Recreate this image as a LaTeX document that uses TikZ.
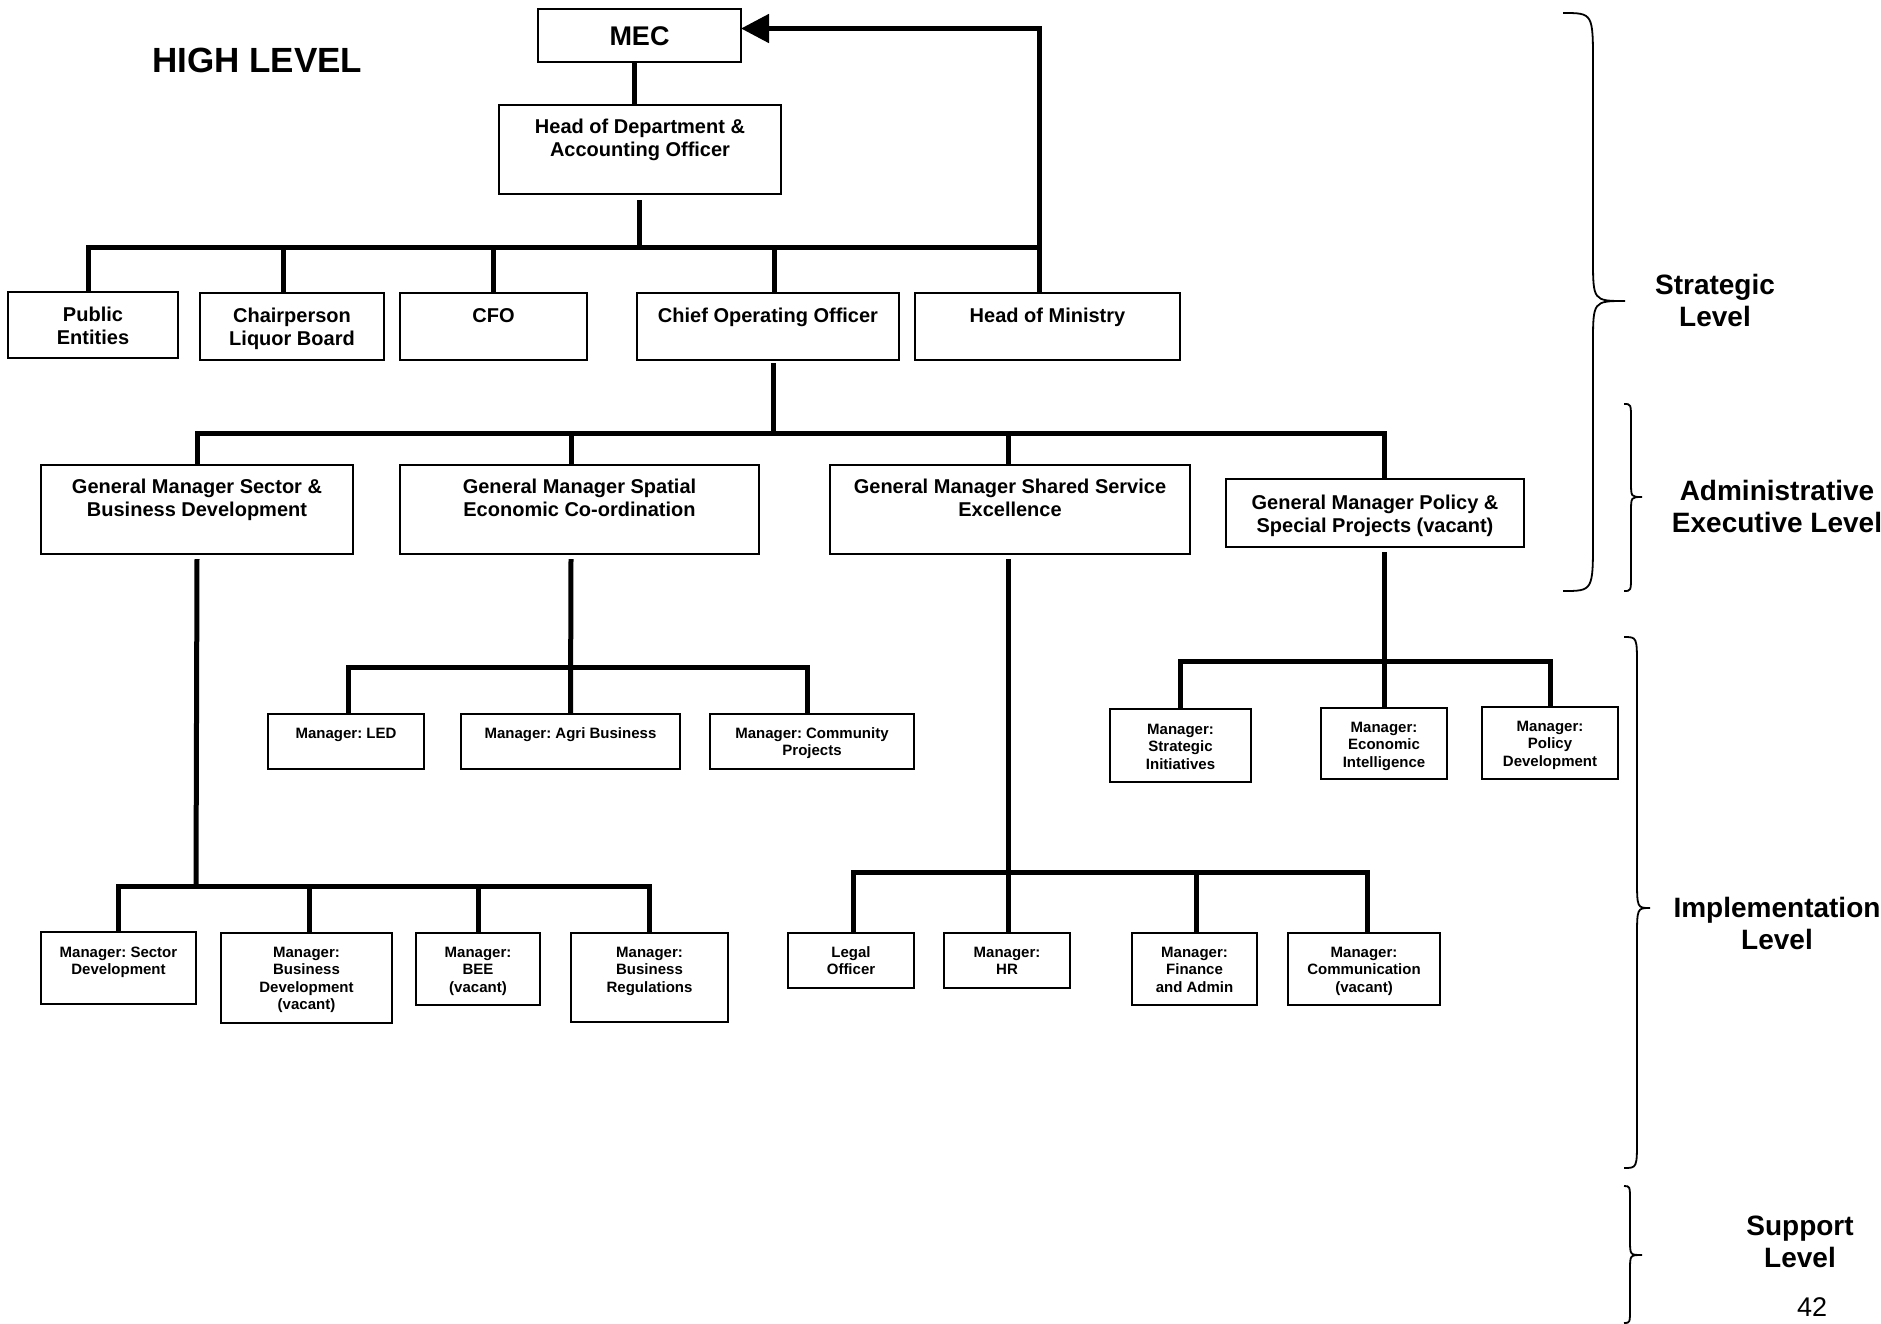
\documentclass[tikz,border=0pt]{standalone}
\usepackage{fontspec}
\setmainfont{Liberation Sans}
\usetikzlibrary{arrows.meta}
% top-aligned box content: width, height, first baseline offset, text
\newcommand\inbox[4]{\parbox[t][#2pt][t]{#1pt}{\centering\rule{0pt}{#3pt}#4}}
\begin{document}
\frenchspacing
\begin{tikzpicture}[x=1pt,y=-1pt,
  box/.style={draw, line width=2pt, inner sep=0pt, outer sep=0pt, anchor=north west,
    font=\bfseries\fontsize{20}{23}\selectfont},
  sbox/.style={box, font=\bfseries\fontsize{15}{17.5}\selectfont},
  conn/.style={line width=5pt, line join=miter},
  brc/.style={line width=1.8pt},
  lvl/.style={anchor=base, inner sep=0pt, font=\bfseries\fontsize{28}{32}\selectfont}]
\useasboundingbox (0,0) rectangle (1881,1323);

% ---------- title ----------
\node[anchor=base west, inner sep=0pt, font=\bfseries\fontsize{35}{40}\selectfont] (title) at (152,72) {HIGH LEVEL};

% ---------- boxes ----------
\node[box] (mec) at (538,9) {\inbox{203}{53}{36}{\fontsize{27}{30}\selectfont MEC}};
\node[box] (hod) at (499,105) {\inbox{282}{89}{28}{Head of Department \&\\Accounting Officer}};

\node[box] (pe)    at (8,292)   {\inbox{170}{66}{29}{Public\\Entities}};
\node[box] (chair) at (200,293) {\inbox{184}{67}{29}{Chairperson\\Liquor Board}};
\node[box] (cfo)   at (400,293) {\inbox{187}{67}{29}{CFO}};
\node[box] (coo)   at (637,293) {\inbox{262}{67}{29}{Chief Operating Officer}};
\node[box] (hom)   at (915,293) {\inbox{265}{67}{29}{Head of Ministry}};

\node[box] (gm1) at (41,465)   {\inbox{312}{89}{28}{General Manager Sector \&\\Business Development}};
\node[box] (gm2) at (400,465)  {\inbox{359}{89}{28}{General Manager Spatial\\Economic Co-ordination}};
\node[box] (gm3) at (830,465)  {\inbox{360}{89}{28}{General Manager Shared Service\\Excellence}};
\node[box] (gm4) at (1226,479) {\inbox{298}{68}{30}{General Manager Policy \&\\Special Projects (vacant)}};

\node[sbox] (led)  at (268,714) {\inbox{156}{55}{24}{Manager: LED}};
\node[sbox] (agri) at (461,714) {\inbox{219}{55}{24}{Manager: Agri Business}};
\node[sbox] (comm) at (710,714) {\inbox{204}{55}{24}{Manager: Community\\Projects}};

\node[sbox] (strat) at (1110,709) {\inbox{141}{73}{25}{Manager:\\Strategic\\Initiatives}};
\node[sbox] (econ)  at (1321,708) {\inbox{126}{71}{24}{Manager:\\Economic\\Intelligence}};
\node[sbox] (pol)   at (1482,707) {\inbox{136}{72}{24}{Manager:\\Policy\\Development}};

\node[sbox] (sd)  at (41,932)  {\inbox{155}{72}{25}{Manager: Sector\\Development}};
\node[sbox] (bd)  at (221,933) {\inbox{171}{90}{24}{Manager:\\Business\\Development\\(vacant)}};
\node[sbox] (bee) at (416,933) {\inbox{124}{72}{24}{Manager:\\BEE\\(vacant)}};
\node[sbox] (br)  at (571,933) {\inbox{157}{89}{24}{Manager:\\Business\\Regulations}};

\node[sbox] (legal) at (788,933)  {\inbox{126}{55}{24}{Legal\\Officer}};
\node[sbox] (hr)    at (944,933)  {\inbox{126}{55}{24}{Manager:\\HR}};
\node[sbox] (fin)   at (1132,933) {\inbox{125}{72}{24}{Manager:\\Finance\\and Admin}};
\node[sbox] (com)   at (1288,933) {\inbox{152}{72}{24}{Manager:\\Communication\\(vacant)}};

% ---------- bar junctions ----------
\coordinate (bar1) at (639,247);
\coordinate (bar2) at (773,433);
\coordinate (bar3) at (196,886);
\coordinate (bar4) at (571,667);
\coordinate (bar5) at (1008,872);
\coordinate (bar6) at (1384,661);

% ---------- connectors ----------
\draw[conn] ([xshift=-5.5pt]mec.south) -- ([xshift=-6pt]hod.north);
\draw[conn] ([xshift=-1pt,yshift=-6pt]hod.south) -- (bar1);
\draw[conn] ([xshift=-5pt]pe.north) |- (bar1) -| ([xshift=-8.5pt]hom.north);
\draw[conn] ([xshift=-9pt]chair.north) -- ([xshift=-9pt]chair.north |- bar1);
\draw[conn] (cfo.north) -- (cfo.north |- bar1);
\draw[conn] ([xshift=6.5pt]coo.north) -- ([xshift=6.5pt]coo.north |- bar1);
\draw[conn, -{Triangle[length=28pt,width=28pt]}] ([xshift=-8.5pt]hom.north) |- ([yshift=7pt]mec.east);

\draw[conn] ([xshift=5pt,yshift=-3pt]coo.south) -- (bar2);
\draw[conn] (gm1.north) |- (bar2) -| ([xshift=9pt]gm4.north);
\draw[conn] ([xshift=-8.5pt]gm2.north) -- ([xshift=-8.5pt]gm2.north |- bar2);
\draw[conn] ([xshift=-2pt]gm3.north) -- ([xshift=-2pt]gm3.north |- bar2);

\draw[conn] ([yshift=-5pt]gm1.south) -- (bar3);
\draw[conn] (sd.north) |- (bar3) -| (br.north);
\draw[conn] ([xshift=2.5pt]bd.north) -- ([xshift=2.5pt]bd.north |- bar3);
\draw[conn] (bee.north) -- (bee.north |- bar3);

\draw[conn] ([xshift=-8.5pt,yshift=-5pt]gm2.south) -- (agri.north);
\draw[conn] ([xshift=2pt]led.north) |- (bar4) -| ([xshift=-5pt]comm.north);

\draw[conn] ([xshift=-2pt,yshift=-5pt]gm3.south) -- ([xshift=1pt]hr.north);
\draw[conn] ([xshift=2pt]legal.north) |- (bar5) -| ([xshift=3pt]com.north);
\draw[conn] ([xshift=1.5pt]fin.north) -- ([xshift=1.5pt]fin.north |- bar5);

\draw[conn] ([xshift=9pt,yshift=-5pt]gm4.south) -- (econ.north);
\draw[conn] (strat.north) |- (bar6) -| (pol.north);

% ---------- braces ----------
\draw[brc] (1563,13) .. controls (1593,13) .. (1593,65) -- (1593,258)
  .. controls (1593,301) .. (1625,301) .. controls (1593,301) .. (1593,344)
  -- (1593,538) .. controls (1593,591) .. (1563,591);
\draw[brc] (1624,404) .. controls (1631,404) .. (1631,420) -- (1631,482)
  .. controls (1631,497) .. (1642,497) .. controls (1631,497) .. (1631,512)
  -- (1631,575) .. controls (1631,591) .. (1624,591);
\draw[brc] (1624,637) .. controls (1637,637) .. (1637,667) -- (1637,878)
  .. controls (1637,908) .. (1650,908) .. controls (1637,908) .. (1637,938)
  -- (1637,1138) .. controls (1637,1168) .. (1624,1168);
\draw[brc] (1624,1186) .. controls (1630,1186) .. (1630,1202) -- (1630,1240)
  .. controls (1630,1255) .. (1642,1255) .. controls (1630,1255) .. (1630,1270)
  -- (1630,1308) .. controls (1630,1323) .. (1624,1323);

% ---------- level labels ----------
\node[lvl] (lstrat) at (1715,294) {\parbox[t]{300pt}{\centering Strategic\\Level}};
\node[lvl] (ladmin) at (1777,500) {\parbox[t]{300pt}{\centering Administrative\\Executive Level}};
\node[lvl] (limpl)  at (1777,917) {\parbox[t]{300pt}{\centering Implementation\\Level}};
\node[lvl] (lsupp)  at (1800,1235) {\parbox[t]{300pt}{\centering Support\\Level}};
\node[anchor=base, inner sep=0pt, font=\fontsize{27}{30}\selectfont] (page) at (1812,1316) {42};
\end{tikzpicture}
\end{document}
